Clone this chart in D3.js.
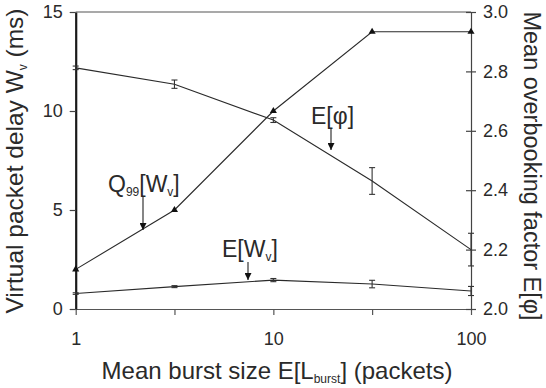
<!DOCTYPE html>
<html>
<head>
<meta charset="utf-8">
<script src="https://cdn.jsdelivr.net/npm/d3@7"></script>
<style>
  html, body { margin: 0; padding: 0; background: #fff; }
  svg { display: block; font-family: "Liberation Sans", Arial, sans-serif; }
</style>
</head>
<body>
<svg id="chart" width="546" height="388"></svg>
<script>
// Mean burst size E[L_burst] (packets), log scale
const burstSizes = [1, 3.16, 10, 31.6, 100];
// 99% quantile of the virtual packet delay (ms), left axis
const q99Delay = [2, 5, 10, 14, 14];
// Mean virtual packet delay (ms) with confidence half-widths, left axis
const meanDelay = [0.78, 1.13, 1.46, 1.26, 0.91];
const meanDelayErr = [0.04, 0.05, 0.08, 0.19, 0.23];
// Mean overbooking factor E[phi] with confidence half-widths, right axis
const overbooking = [2.812, 2.757, 2.636, 2.431, 2.2];
const overbookingErr = [0.006, 0.014, 0.008, 0.045, 0.055];

const leftTicks = [0, 5, 10, 15];
const rightTicks = [2.0, 2.2, 2.4, 2.6, 2.8, 3.0];
const xLabelled = [1, 10, 100];

const svg = d3.select("#chart");
const ink = "#2a2a2a";
const fontFam = "Liberation Sans, Arial, sans-serif";
const plotL = 75.7, plotR = 471, plotT = 12, plotB = 309;

const x = d3.scaleLog().domain([1, 100]).range([plotL, plotR]);
const yL = d3.scaleLinear().domain([0, 15]).range([plotB, plotT]);
const yR = d3.scaleLinear().domain([2, 3]).range([plotB, plotT]);

// top frame line
svg.append("line")
  .attr("x1", plotL).attr("x2", plotR).attr("y1", plotT).attr("y2", plotT)
  .attr("stroke", "#555").attr("stroke-width", 1.2);

// bottom axis
const gx = svg.append("g").attr("transform", `translate(0,${plotB})`)
  .call(d3.axisBottom(x).tickValues(burstSizes).tickSizeInner(6).tickSizeOuter(0)
    .tickPadding(17).tickFormat(d => xLabelled.includes(d) ? d3.format("d")(d) : ""));
gx.select(".domain").attr("stroke", "#555").attr("stroke-width", 1.2);
gx.selectAll(".tick line").attr("stroke", "#555").attr("stroke-width", 1.2);
gx.selectAll("text").attr("font-size", 18).attr("fill", ink).attr("font-family", fontFam);

// right axis, ticks crossing the line
const gr = svg.append("g").attr("transform", `translate(${plotR},0)`)
  .call(d3.axisRight(yR).tickValues(rightTicks).tickSizeInner(5).tickSizeOuter(0)
    .tickPadding(7).tickFormat(d3.format(".1f")));
gr.select(".domain").attr("stroke", "#444").attr("stroke-width", 1.2);
gr.selectAll(".tick line").attr("x1", -5).attr("stroke", "#444").attr("stroke-width", 1.2);
gr.selectAll("text").attr("font-size", 18).attr("fill", ink).attr("font-family", fontFam);

// left axis (heavier line)
const gl = svg.append("g").attr("transform", `translate(${plotL},0)`)
  .call(d3.axisLeft(yL).tickValues(leftTicks).tickSizeInner(6).tickSizeOuter(0)
    .tickPadding(7));
gl.select(".domain").attr("stroke", "#1a1a1a").attr("stroke-width", 2.2);
gl.selectAll(".tick line").attr("stroke", "#444").attr("stroke-width", 1.2);
gl.selectAll("text").attr("font-size", 18).attr("fill", ink).attr("font-family", fontFam);

// series lines
const lineL = d3.line().x((d, i) => x(burstSizes[i])).y(d => yL(d));
const lineR = d3.line().x((d, i) => x(burstSizes[i])).y(d => yR(d));

svg.append("path").datum(q99Delay).attr("d", lineL)
  .attr("fill", "none").attr("stroke", ink).attr("stroke-width", 1.1);
svg.append("path").datum(meanDelay).attr("d", lineL)
  .attr("fill", "none").attr("stroke", ink).attr("stroke-width", 1.1);
svg.append("path").datum(overbooking).attr("d", lineR)
  .attr("fill", "none").attr("stroke", ink).attr("stroke-width", 1.1);

// triangle markers on the quantile curve
svg.selectAll(".tri").data(q99Delay).join("path")
  .attr("class", "tri")
  .attr("transform", (d, i) => `translate(${x(burstSizes[i])},${yL(d)})`)
  .attr("d", d3.symbol(d3.symbolTriangle, 22))
  .attr("fill", "#111");

// error bars
function errorBars(vals, errs, y, cls) {
  const g = svg.selectAll("." + cls).data(vals).join("g").attr("class", cls)
    .attr("stroke", "#333").attr("stroke-width", 1.1);
  g.append("line")
    .attr("x1", (d, i) => x(burstSizes[i])).attr("x2", (d, i) => x(burstSizes[i]))
    .attr("y1", (d, i) => y(d - errs[i])).attr("y2", (d, i) => y(d + errs[i]));
  [-1, 1].forEach(s => {
    g.append("line")
      .attr("x1", (d, i) => x(burstSizes[i]) - 3).attr("x2", (d, i) => x(burstSizes[i]) + 3)
      .attr("y1", (d, i) => y(d + s * errs[i])).attr("y2", (d, i) => y(d + s * errs[i]));
  });
}
errorBars(meanDelay, meanDelayErr, yL, "errDelay");
errorBars(overbooking, overbookingErr, yR, "errPhi");

// annotation labels with arrows
svg.append("defs").append("marker")
  .attr("id", "arrow").attr("viewBox", "0 0 10 10")
  .attr("refX", 10).attr("refY", 5)
  .attr("markerWidth", 7).attr("markerHeight", 7)
  .attr("markerUnits", "userSpaceOnUse")
  .attr("orient", "auto")
  .append("path").attr("d", "M0,0L10,5L0,10Z").attr("fill", "#111");

function arrow(xp, y1, y2) {
  svg.append("line").attr("x1", xp).attr("x2", xp).attr("y1", y1).attr("y2", y2)
    .attr("stroke", "#222").attr("stroke-width", 1.1).attr("marker-end", "url(#arrow)");
}

function label(xp, yp, parts) {
  const t = svg.append("text").attr("x", xp).attr("y", yp)
    .attr("font-size", 23).attr("fill", ink);
  parts.forEach(p => {
    const s = t.append("tspan").text(p.t);
    if (p.sub) s.attr("font-size", 12).attr("dy", 4);
    else if (p.back) s.attr("dy", -4);
  });
  return t;
}

label(311, 124, [{t: "E[φ]"}]);
arrow(331, 129, 150);

label(108, 192, [{t: "Q"}, {t: "99", sub: true}, {t: "[W", back: true}, {t: "v", sub: true}, {t: "]", back: true}]);
arrow(143, 196, 230);

label(222, 257, [{t: "E[W"}, {t: "v", sub: true}, {t: "]", back: true}]);
arrow(248, 262, 280);

// axis titles
const xt = svg.append("text").attr("x", 277).attr("y", 379)
  .attr("text-anchor", "middle").attr("font-size", 24).attr("fill", ink);
xt.append("tspan").text("Mean burst size E[L");
xt.append("tspan").text("burst").attr("font-size", 12).attr("dy", 4);
xt.append("tspan").text("] (packets)").attr("dy", -4);

const yt = svg.append("text")
  .attr("transform", "translate(22.5,161) rotate(-90)")
  .attr("text-anchor", "middle").attr("font-size", 24.5).attr("fill", ink);
yt.append("tspan").text("Virtual packet delay W");
yt.append("tspan").text("v").attr("font-size", 12).attr("dy", 4);
yt.append("tspan").text(" (ms)").attr("dy", -4);

svg.append("text")
  .attr("transform", "translate(524,166) rotate(90)")
  .attr("text-anchor", "middle").attr("font-size", 23.5).attr("fill", ink)
  .text("Mean overbooking factor E[φ]");
</script>
</body>
</html>
